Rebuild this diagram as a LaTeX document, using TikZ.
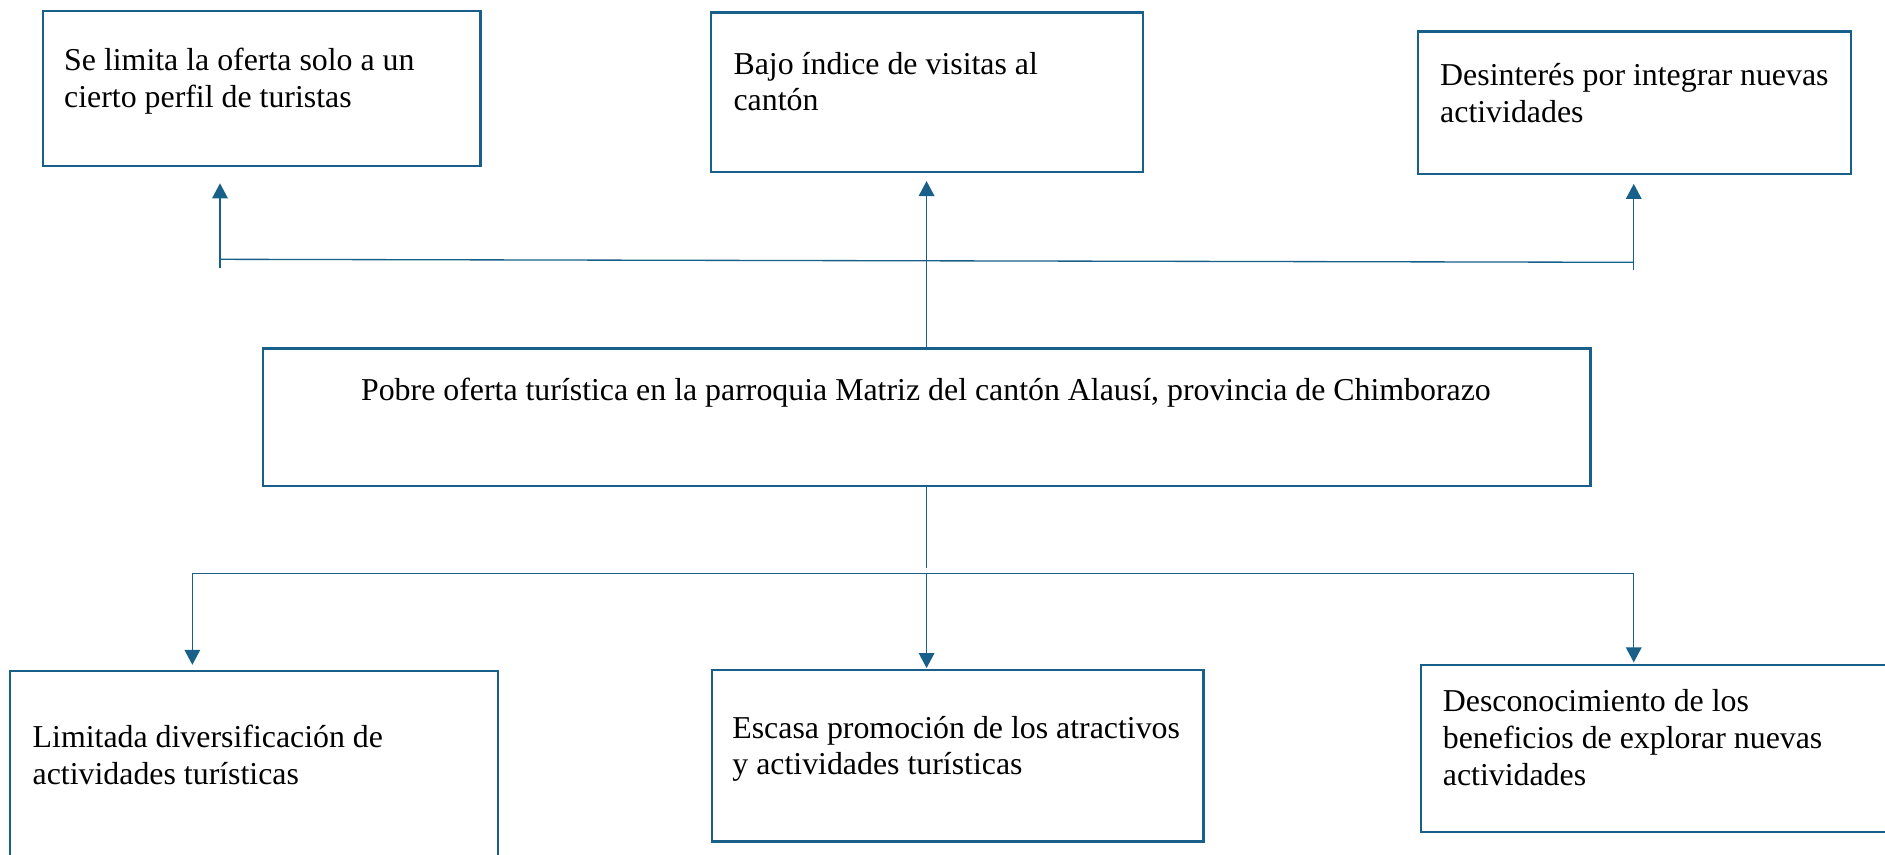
\documentclass[tikz,border=0pt]{standalone}
\usepackage{fontspec}
\setmainfont{Liberation Serif}
\usetikzlibrary{arrows.meta,calc}
\definecolor{ln}{RGB}{24,96,138}
\begin{document}
\begin{tikzpicture}[x=1pt,y=-1pt,
  box/.style={draw=ln,line width=1.9pt,rectangle,inner sep=0pt,outer sep=0pt,anchor=north west},
  txt/.style={anchor=base west,inner sep=0pt,align=flush left,text width=#1,font=\fontsize{26.5}{30.5}\selectfont},
  ctxt/.style={anchor=base,inner sep=0pt,font=\fontsize{26.5}{30.5}\selectfont},
  conn/.style={draw=ln,line width=1.1pt},
  arr/.style={conn,-{Triangle[width=13pt,length=12.5pt]}}]
\useasboundingbox (0,0) rectangle (1568,711.2);
% boxes
\node[box,minimum width=363.9pt,minimum height=128.9pt] (b1) at (35.7,9.2) {};
\node[box,minimum width=359.5pt,minimum height=132.9pt] (b2) at (591.5,10.3) {};
\node[box,minimum width=359.6pt,minimum height=118.7pt] (b3) at (1179.8,26.3) {};
\node[box,minimum width=1104.5pt,minimum height=114.2pt] (c) at (218.5,289.8) {};
\node[box,minimum width=405.4pt,minimum height=200pt] (b4) at (8.6,558) {};
\node[box,minimum width=409pt,minimum height=142.6pt] (b5) at (592,557.4) {};
\node[box,minimum width=450pt,minimum height=138.8pt] (b6) at (1182,553) {};
% texts
\node[txt=340pt] (t1) at (53.2,58.8) {Se limita la oferta solo a un\\cierto perfil de turistas};
\node[txt=340pt] (t2) at (610,61.6) {Bajo índice de visitas al\\cantón};
\node[txt=345pt] (t3) at (1197.8,71.5) {Desinterés por integrar nuevas\\actividades};
\node[ctxt] (tc) at (770.2,333.3) {Pobre oferta turística en la parroquia Matriz del cantón Alausí, provincia de Chimborazo};
\node[txt=380pt] (t4) at (27,622) {Limitada diversificación de\\actividades turísticas};
\node[txt=390pt] (t5) at (609,614) {Escasa promoción de los atractivos\\y actividades turísticas};
\node[txt=370pt] (t6) at (1200,592) {Desconocimiento de los\\beneficios de explorar nuevas\\actividades};
% upper connectors
\coordinate (ul) at (183,215.7);
\coordinate (ur) at (1359,218.2);
\coordinate (ulb) at (183,222.7);
\coordinate (urb) at (1359,224.6);
\draw[conn] (ul) -- (ur);
\draw[arr] (ulb) -- ($(ulb |- b1.south)+(0,14.4)$);
\draw[arr] (c.north) -- ($(c.north |- b2.south)+(0,7.4)$);
\draw[arr] (urb) -- ($(urb |- b3.south)+(0,8)$);
% lower connectors
\coordinate (cd) at (770.75,472.6);
\coordinate (dl) at (160,477.2);
\coordinate (dm) at (770.75,477.2);
\coordinate (dr) at (1359,477.2);
\draw[conn] (c.south) -- (cd);
\draw[conn] (dl) -- (dr);
\draw[arr] (dl) -- ($(dl |- b4.north)+(0,-5)$);
\draw[arr] (dm) -- ($(dm |- b5.north)+(0,-1.7)$);
\draw[arr] (dr) -- ($(dr |- b6.north)+(0,-2)$);
\end{tikzpicture}
\end{document}
